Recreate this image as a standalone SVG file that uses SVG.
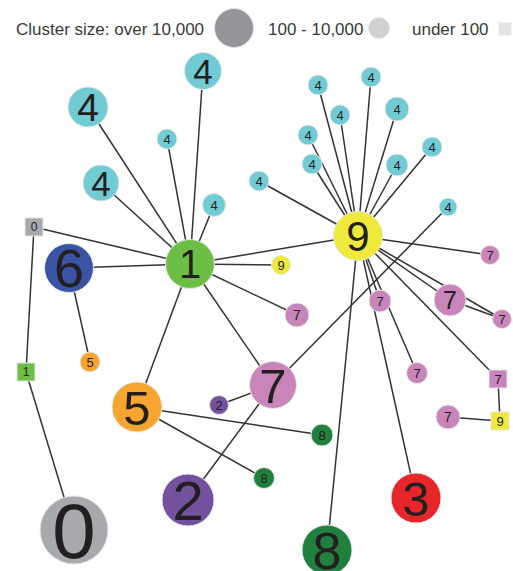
<svg xmlns="http://www.w3.org/2000/svg" width="513" height="571" viewBox="0 0 513 571">
<style>
text{font-family:"Liberation Sans",Arial,sans-serif;fill:#231f20;text-anchor:middle}
.leg{font-size:17px;fill:#3a3a3a;text-anchor:start}
.e line{stroke:#333;stroke-width:1.5}
circle{stroke:#e6e6e6;stroke-width:1}
rect{stroke:#e6e6e6;stroke-width:1}
.c4{fill:#70cbd5}.c1{fill:#6dbe45}.c6{fill:#3b53a4}.c5{fill:#f6a52f}.c9{fill:#eee93a}
.c7{fill:#c984ba}.c2{fill:#73519f}.c8{fill:#22803e}.c3{fill:#e8262a}.c0{fill:#a7a9ac}
.s{font-size:13px}
</style>
<g id="legend">
<text class="leg" x="16" y="35">Cluster size: over 10,000</text>
<circle cx="234" cy="28" r="19.5" fill="#949598"/>
<text class="leg" x="268" y="35">100 - 10,000</text>
<circle cx="379" cy="28" r="10.5" fill="#cfd0d2" stroke="#a9aaad"/>
<text class="leg" x="412" y="35">under 100</text>
<rect x="499" y="23" width="12" height="12" fill="#e3e4e5" stroke="none"/>
</g>
<g class="e" id="connectors">
<line x1="190" y1="264" x2="88" y2="107"/>
<line x1="190" y1="264" x2="203" y2="71"/>
<line x1="190" y1="264" x2="167" y2="139"/>
<line x1="190" y1="264" x2="101" y2="183"/>
<line x1="190" y1="264" x2="214" y2="205"/>
<line x1="190" y1="264" x2="34" y2="227"/>
<line x1="190" y1="264" x2="69" y2="268"/>
<line x1="190" y1="264" x2="358" y2="236"/>
<line x1="190" y1="264" x2="281" y2="265"/>
<line x1="190" y1="264" x2="297" y2="315"/>
<line x1="190" y1="264" x2="273" y2="385"/>
<line x1="190" y1="264" x2="137" y2="407"/>
<line x1="34" y1="227" x2="26" y2="372"/>
<line x1="26" y1="372" x2="74" y2="530"/>
<line x1="69" y1="268" x2="90" y2="362"/>
<line x1="137" y1="407" x2="322" y2="435"/>
<line x1="137" y1="407" x2="264" y2="478"/>
<line x1="273" y1="385" x2="219" y2="405"/>
<line x1="273" y1="385" x2="188" y2="500"/>
<line x1="273" y1="385" x2="448" y2="207"/>
<line x1="358" y1="236" x2="318" y2="85"/>
<line x1="358" y1="236" x2="371" y2="77"/>
<line x1="358" y1="236" x2="340" y2="115"/>
<line x1="358" y1="236" x2="397" y2="109"/>
<line x1="358" y1="236" x2="308" y2="135"/>
<line x1="358" y1="236" x2="312" y2="164"/>
<line x1="358" y1="236" x2="397" y2="165"/>
<line x1="358" y1="236" x2="432" y2="147"/>
<line x1="358" y1="236" x2="259" y2="181"/>
<line x1="358" y1="236" x2="490" y2="255"/>
<line x1="358" y1="236" x2="450" y2="300"/>
<line x1="358" y1="236" x2="502" y2="319"/>
<line x1="450" y1="300" x2="502" y2="319"/>
<line x1="358" y1="236" x2="380" y2="301"/>
<line x1="358" y1="236" x2="417" y2="373"/>
<line x1="358" y1="236" x2="498" y2="379"/>
<line x1="358" y1="236" x2="416" y2="498"/>
<line x1="358" y1="236" x2="327" y2="550"/>
<line x1="498" y1="379" x2="500" y2="421"/>
<line x1="448" y1="417" x2="500" y2="421"/>
</g>
<g id="n1"><circle class="c1" cx="190" cy="264" r="24.5"/><text x="190" y="264" dy="0.36em" font-size="40">1</text></g>
<g id="n6"><circle class="c6" cx="69" cy="268" r="24.5"/><text x="69" y="268" dy="0.36em" font-size="54">6</text></g>
<g id="n5"><circle class="c5" cx="137" cy="407" r="25"/><text x="137" y="407" dy="0.36em" font-size="49">5</text></g>
<g id="n2"><circle class="c2" cx="188" cy="500" r="26"/><text x="188" y="500" dy="0.36em" font-size="56">2</text></g>
<g id="n0"><circle class="c0" cx="74" cy="530" r="34"/><text x="74" y="530" dy="0.36em" font-size="78">0</text></g>
<g id="n8"><circle class="c8" cx="327" cy="550" r="25"/><text x="327" y="550" dy="0.36em" font-size="52">8</text></g>
<g id="n3"><circle class="c3" cx="416" cy="498" r="25"/><text x="416" y="498" dy="0.36em" font-size="49">3</text></g>
<g id="n7"><circle class="c7" cx="273" cy="385" r="23.5"/><text x="273" y="385" dy="0.36em" font-size="49">7</text></g>
<g id="n9"><circle class="c9" cx="358" cy="236" r="24.5"/><text x="358" y="236" dy="0.36em" font-size="42">9</text></g>
<g id="n4a"><circle class="c4" cx="88" cy="107" r="20"/><text x="88" y="107" dy="0.36em" font-size="39">4</text></g>
<g id="n4b"><circle class="c4" cx="203" cy="71" r="18.5"/><text x="203" y="71" dy="0.36em" font-size="35">4</text></g>
<g id="n4c"><circle class="c4" cx="101" cy="183" r="18"/><text x="101" y="183" dy="0.36em" font-size="35">4</text></g>
<g id="n4d"><circle class="c4" cx="167" cy="139" r="10"/><text class="s" x="167" y="139" dy="0.36em">4</text></g>
<g id="n4e"><circle class="c4" cx="214" cy="205" r="11.5"/><text class="s" x="214" y="205" dy="0.36em">4</text></g>
<g id="sq0"><rect class="c0" x="25" y="218" width="18" height="18"/><text x="34" y="227" dy="0.36em" font-size="12">0</text></g>
<g id="sq1"><rect class="c1" x="17" y="363" width="18" height="18"/><text x="26" y="372" dy="0.36em" font-size="12">1</text></g>
<g id="n5s"><circle class="c5" cx="90" cy="362" r="10"/><text class="s" x="90" y="362" dy="0.36em">5</text></g>
<g id="n9s"><circle class="c9" cx="281" cy="265" r="9.5"/><text class="s" x="281" y="265" dy="0.36em">9</text></g>
<g id="n7a"><circle class="c7" cx="297" cy="315" r="12"/><text x="297" y="315" dy="0.36em" font-size="14">7</text></g>
<g id="n2s"><circle class="c2" cx="219" cy="405" r="9.5"/><text class="s" x="219" y="405" dy="0.36em">2</text></g>
<g id="n8s1"><circle class="c8" cx="322" cy="435" r="11"/><text class="s" x="322" y="435" dy="0.36em">8</text></g>
<g id="n8s2"><circle class="c8" cx="264" cy="478" r="10.5"/><text class="s" x="264" y="478" dy="0.36em">8</text></g>
<g id="n4f"><circle class="c4" cx="318" cy="85" r="10"/><text class="s" x="318" y="85" dy="0.36em">4</text></g>
<g id="n4g"><circle class="c4" cx="371" cy="77" r="10"/><text class="s" x="371" y="77" dy="0.36em">4</text></g>
<g id="n4h"><circle class="c4" cx="340" cy="115" r="10"/><text class="s" x="340" y="115" dy="0.36em">4</text></g>
<g id="n4i"><circle class="c4" cx="397" cy="109" r="12"/><text class="s" x="397" y="109" dy="0.36em">4</text></g>
<g id="n4j"><circle class="c4" cx="308" cy="135" r="10"/><text class="s" x="308" y="135" dy="0.36em">4</text></g>
<g id="n4k"><circle class="c4" cx="312" cy="164" r="10"/><text class="s" x="312" y="164" dy="0.36em">4</text></g>
<g id="n4l"><circle class="c4" cx="397" cy="165" r="11"/><text class="s" x="397" y="165" dy="0.36em">4</text></g>
<g id="n4m"><circle class="c4" cx="432" cy="147" r="10"/><text class="s" x="432" y="147" dy="0.36em">4</text></g>
<g id="n4n"><circle class="c4" cx="259" cy="181" r="10"/><text class="s" x="259" y="181" dy="0.36em">4</text></g>
<g id="n4o"><circle class="c4" cx="448" cy="207" r="9"/><text class="s" x="448" y="207" dy="0.36em">4</text></g>
<g id="n7b"><circle class="c7" cx="490" cy="255" r="9.5"/><text class="s" x="490" y="255" dy="0.36em">7</text></g>
<g id="n7c"><circle class="c7" cx="450" cy="300" r="16"/><text x="450" y="300" dy="0.36em" font-size="25">7</text></g>
<g id="n7d"><circle class="c7" cx="380" cy="301" r="11"/><text class="s" x="380" y="301" dy="0.36em">7</text></g>
<g id="n7e"><circle class="c7" cx="502" cy="319" r="9.5"/><text class="s" x="502" y="319" dy="0.36em">7</text></g>
<g id="n7f"><circle class="c7" cx="417" cy="373" r="10.5"/><text class="s" x="417" y="373" dy="0.36em">7</text></g>
<g id="n7g"><circle class="c7" cx="448" cy="417" r="12"/><text x="448" y="417" dy="0.36em" font-size="14">7</text></g>
<g id="sq7"><rect class="c7" x="489" y="370" width="18" height="18"/><text x="498" y="379" dy="0.36em" font-size="13">7</text></g>
<g id="sq9"><rect class="c9" x="491" y="412" width="18" height="18"/><text x="500" y="421" dy="0.36em" font-size="13">9</text></g>
</svg>
